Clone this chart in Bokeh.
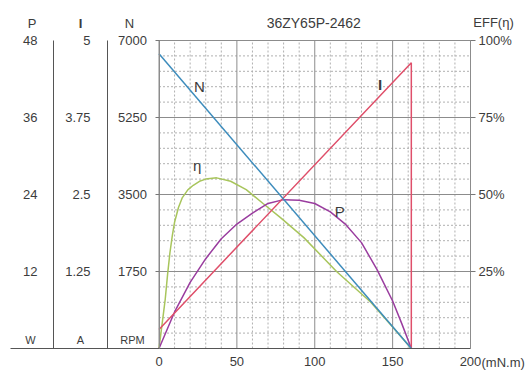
from bokeh.plotting import figure
from bokeh.models import (Range1d, LinearAxis, FixedTicker, NumeralTickFormatter,
                          PrintfTickFormatter, Label)
from bokeh.embed import file_html
from bokeh.resources import INLINE

# ---- data ----
torque_n = [0, 162]
speed_rpm = [6700, 0]

torque_i = [0, 162, 162]
current_a = [0.31, 4.64, 0]

torque_eff = [0, 1, 2, 3, 4, 5.5, 7, 8.5, 10, 12.5, 15, 18.5, 22, 26, 30, 37, 46, 56, 67,
              78, 93, 114, 136, 150, 162]
eff_pct = [0, 4, 8, 12, 16, 24, 31, 36.5, 41, 45.8, 49, 51.5, 53, 54.3, 55, 55.4, 54.3,
           51.6, 47, 42.5, 36, 25, 15, 7, 0]

torque_p = [0, 10, 20, 30, 40, 50, 60, 70, 80, 90, 100, 110, 120, 130, 140, 150, 156, 162]
power_w = [0, 5.7, 10.3, 14.0, 17.1, 19.4, 21.1, 22.6, 23.2, 23.1, 22.6, 21.3, 19.3, 16.5, 12.3, 7.4, 3.8, 0]

x_ticks = [0, 50, 100, 150, 200]
x_minor = list(range(0, 201, 10))
n_ticks = [1750, 3500, 5250, 7000]
n_minor = list(range(0, 7001, 350))
i_ticks = [1.25, 2.5, 3.75, 5]
p_ticks = [12, 24, 36, 48]
eff_ticks = [25, 50, 75, 100]

X_MAX = 200
N_MAX = 7000
I_MAX = 5
P_MAX = 48
EFF_MAX = 100

title_text = "36ZY65P-2462"

# ---- layout geometry (pixels in the 531x374 canvas) ----
W, H = 531, 374
PX_L, PX_R, PX_T, PX_B = 158.5, 470.0, 40.0, 348.0
PX_SEP_I, PX_SEP_P, PX_BASE_LEFT = 107.0, 53.0, 10.0

ux = X_MAX / (PX_R - PX_L)          # data units per pixel (x)
uy = N_MAX / (PX_B - PX_T)          # data units per pixel (N scale)


def x_of(px):
    return (px - PX_L) * ux


def yrange(vmax):
    k = vmax / N_MAX
    return Range1d(-(H - PX_B) * uy * k, vmax + PX_T * uy * k)


FONT = "Liberation Sans"
TXT = "#3c3c3c"
FS = "13px"

p = figure(width=W, height=H, x_range=Range1d(x_of(0), x_of(W)), y_range=yrange(N_MAX),
           x_axis_type=None, y_axis_type=None,
           output_backend="svg", toolbar_location=None,
           min_border=0, min_border_left=0, min_border_right=0,
           min_border_top=0, min_border_bottom=0)
p.outline_line_color = None
p.extra_y_ranges = {"I": yrange(I_MAX), "P": yrange(P_MAX), "eff": yrange(EFF_MAX)}

# ---- grid (drawn through the scales) ----
minor_x = [v for v in x_minor if v not in x_ticks]
minor_y = [v for v in n_minor if v not in n_ticks and v != 0]
p.segment(x0=minor_x, y0=[0] * len(minor_x), x1=minor_x, y1=[N_MAX] * len(minor_x),
          line_color="#b0b0b0", line_dash="2 2", line_width=1)
p.segment(x0=[0] * len(minor_y), y0=minor_y, x1=[X_MAX] * len(minor_y), y1=minor_y,
          line_color="#b0b0b0", line_dash="2 2", line_width=1)
p.segment(x0=x_ticks, y0=[0] * len(x_ticks), x1=x_ticks, y1=[N_MAX] * len(x_ticks),
          line_color="#8c8c8c", line_width=1)
p.segment(x0=[0] * len(n_ticks), y0=n_ticks, x1=[X_MAX] * len(n_ticks), y1=n_ticks,
          line_color="#8c8c8c", line_width=1)


def style(ax, standoff, tick_out=0):
    ax.major_tick_out = tick_out
    ax.major_tick_in = 0
    ax.minor_tick_out = 0
    ax.minor_tick_in = 0
    ax.major_label_standoff = standoff
    ax.major_label_text_font = FONT
    ax.major_label_text_font_size = FS
    ax.major_label_text_color = TXT
    ax.major_tick_line_color = "#777777"


# x axis (its line also runs under the left columns)
xa = LinearAxis(fixed_location=0, bounds=(x_of(PX_BASE_LEFT), X_MAX),
                ticker=FixedTicker(ticks=x_ticks))
style(xa, 8)
xa.axis_line_color = "#555555"
p.add_layout(xa, "below")

# N axis
na = LinearAxis(fixed_location=0, bounds=(0, N_MAX), ticker=FixedTicker(ticks=n_ticks))
style(na, 8, tick_out=4)
na.axis_line_color = "#8c8c8c"
p.add_layout(na, "left")

# I axis
ia = LinearAxis(y_range_name="I", fixed_location=x_of(PX_SEP_I), bounds=(0, I_MAX),
                ticker=FixedTicker(ticks=i_ticks), formatter=NumeralTickFormatter(format="0.[00]"))
style(ia, 17)
ia.axis_line_color = "#555555"
p.add_layout(ia, "left")

# P axis
pa = LinearAxis(y_range_name="P", fixed_location=x_of(PX_SEP_P), bounds=(0, P_MAX),
                ticker=FixedTicker(ticks=p_ticks))
style(pa, 16)
pa.axis_line_color = "#555555"
p.add_layout(pa, "left")

# efficiency axis (right)
ea = LinearAxis(y_range_name="eff", fixed_location=X_MAX, bounds=(0, EFF_MAX),
                ticker=FixedTicker(ticks=eff_ticks), formatter=PrintfTickFormatter(format="%d%%"))
style(ea, 3, tick_out=5)
ea.axis_line_color = "#8c8c8c"
p.add_layout(ea, "right")

# ---- curves ----
p.line(torque_eff, eff_pct, y_range_name="eff", line_color="#a8c55c", line_width=1.5)
p.line(torque_p, power_w, y_range_name="P", line_color="#9a3d9f", line_width=1.5)
p.line(torque_i, current_a, y_range_name="I", line_color="#df4f6a", line_width=1.5)
p.line(torque_n, speed_rpm, line_color="#3d8cbc", line_width=1.5)


def lab(text, x, y, xo=0, yo=0, align="center", size=FS, bold=False):
    p.add_layout(Label(x=x, y=y, x_offset=xo, y_offset=yo, text=text,
                       text_align=align, text_baseline="middle",
                       text_font=FONT, text_font_size=size, text_color=TXT,
                       text_font_style="bold" if bold else "normal"))


# column headers and units
lab("P", 0, N_MAX, xo=31.5 - PX_L, yo=17)
lab("I", 0, N_MAX, xo=80 - PX_L, yo=17, bold=True)
lab("N", 0, N_MAX, xo=129 - PX_L, yo=17)
lab("W", 0, 0, xo=30 - PX_L, yo=9, size="11px")
lab("A", 0, 0, xo=80 - PX_L, yo=9, size="11px")
lab("RPM", 0, 0, xo=132 - PX_L, yo=9, size="11px")

# title, right header, x unit
lab(title_text, X_MAX / 2, N_MAX, xo=-1, yo=18, size="14px")
lab("EFF(η)", X_MAX, N_MAX, xo=23, yo=18)
lab("(mN.m)", X_MAX, 0, xo=11, yo=-14, align="left")

# curve labels
lab("N", 26, 5950, size="15px")
lab("I", 142, 6000, size="15px", bold=True)
lab("η", 24.5, 4150, size="15px")
lab("P", 116, 3120, size="15px")

open("out.html", "w").write(file_html(p, INLINE))
